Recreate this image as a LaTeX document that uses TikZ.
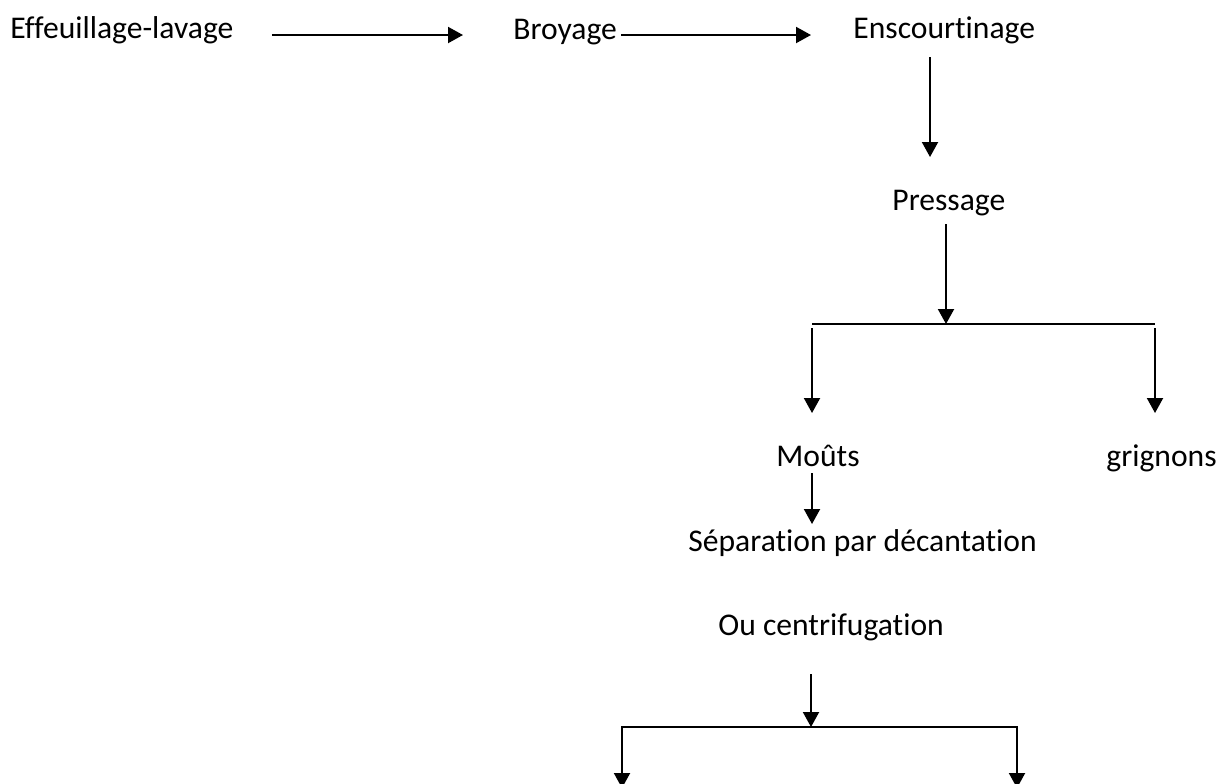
\documentclass[tikz,border=0pt]{standalone}
\usepackage{fontspec}
\setmainfont[Ligatures={NoCommon}]{Carlito}
\usetikzlibrary{arrows.meta}
\begin{document}
\begin{tikzpicture}[x=0.5pt,y=-0.5pt,
  lbl/.style={anchor=base west,inner sep=0pt,font=\fontsize{15.8}{19}\selectfont},
  conn/.style={line width=1pt,-{Triangle[length=7.5pt,width=8pt]}},
  plainline/.style={line width=1pt}]
\useasboundingbox (0,0) rectangle (1231,783);
\clip (0,0) rectangle (1231,783);
\fill[white] (0,0) rectangle (1231,783);
% labels
\node[lbl] (eff) at (10,38) {Effeuillage-lavage};
\node[lbl] (broy) at (513,39) {Broyage};
\node[lbl] (ensc) at (853,38) {Enscourtinage};
\node[lbl] (press) at (892,210) {Pressage};
\node[lbl] (mouts) at (776,466) {Moûts};
\node[lbl] (grig) at (1106,466) {grignons};
\node[lbl] (sep) at (688,551) {Séparation par décantation};
\node[lbl] (ou) at (718,635) {Ou centrifugation};
% junction points
\coordinate (j1) at (946,324);
\coordinate (j1l) at (812,324);
\coordinate (j1r) at (1155,324);
\coordinate (j2) at (811,727);
\coordinate (b1) at (622,788);
\coordinate (b2) at (1017,788);
% connectors
\draw[conn] ([shift={(38,-3)}]eff.base east) -- ([shift={(-50,-4)}]broy.base west);
\draw[conn] ([shift={(4,-4)}]broy.base east) -- ([shift={(-42,-3)}]ensc.base west);
\draw[conn] ([shift={(77,19)}]ensc.base west) -- ([shift={(38,-53)}]press.base west);
\draw[conn] ([shift={(54,14)}]press.base west) -- (j1);
\draw[plainline] (j1l) -- (j1r);
\draw[conn] ([shift={(0,4)}]j1l) -- ([shift={(36,-53)}]mouts.base west);
\draw[conn] ([shift={(0,4)}]j1r) -- ([shift={(49,-53)}]grig.base west);
\draw[conn] ([shift={(36,7)}]mouts.base west) -- ([shift={(124,-27)}]sep.base west);
\draw[conn] ([shift={(93,39)}]ou.base west) -- (j2);
\draw[line width=1pt,{Triangle[length=7.5pt,width=8pt]}-{Triangle[length=7.5pt,width=8pt]}] (b1) |- (j2) -| (b2);
\end{tikzpicture}
\end{document}
